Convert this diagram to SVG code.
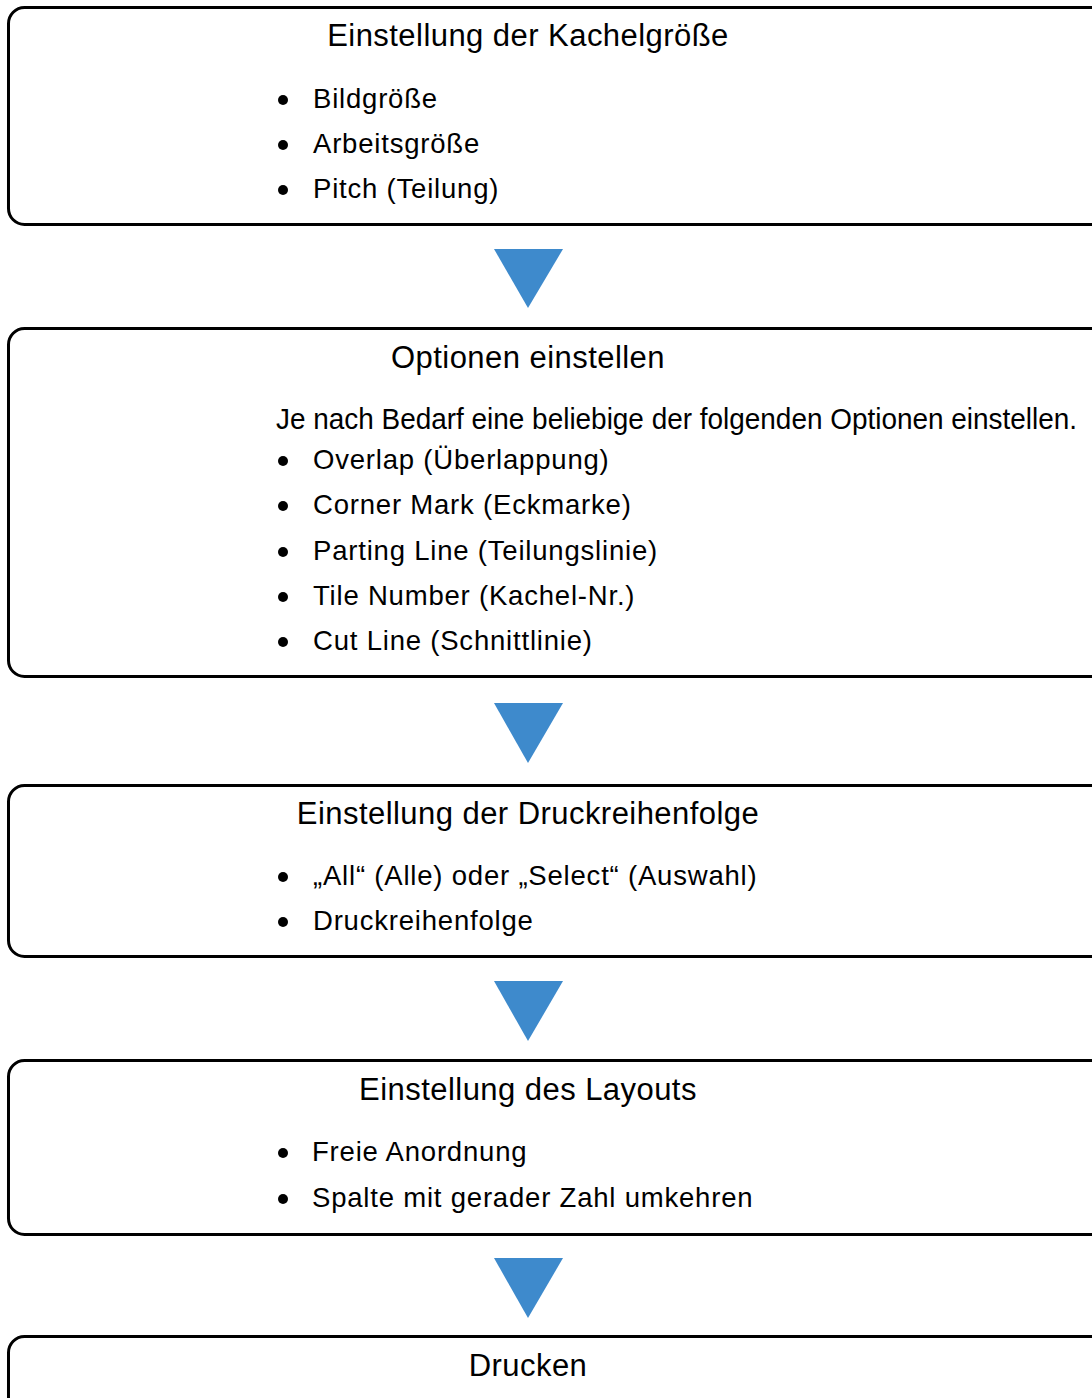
<svg xmlns="http://www.w3.org/2000/svg" width="1092" height="1398" viewBox="0 0 1092 1398">
<style>
.box{fill:#fff;stroke:#000;stroke-width:3}
.t{font-family:"Liberation Sans",Arial,sans-serif;font-size:27.5px;fill:#000;letter-spacing:0.8px}
.h{font-family:"Liberation Sans",Arial,sans-serif;font-size:31px;fill:#000;letter-spacing:0.45px;text-anchor:middle}
.arr{fill:#3E8ACC}
</style>
<rect width="1092" height="1398" fill="#fff"/>
<g id="connectors">
<polygon class="arr" points="494,249 563,249 528,308"/>
<polygon class="arr" points="494,703 563,703 528,763"/>
<polygon class="arr" points="494,981 563,981 528,1041"/>
<polygon class="arr" points="494,1258 563,1258 528,1318"/>
</g>
<g id="node1">
<rect class="box" x="8.5" y="7.5" width="1100" height="217" rx="16"/>
<text class="h" x="528" y="46">Einstellung der Kachelgröße</text>
<circle cx="283" cy="100" r="5"/><text class="t" x="313" y="108">Bildgröße</text>
<circle cx="283" cy="145" r="5"/><text class="t" x="313" y="153">Arbeitsgröße</text>
<circle cx="283" cy="190" r="5"/><text class="t" x="313" y="198">Pitch (Teilung)</text>
</g>
<g id="node2">
<rect class="box" x="8.5" y="328.5" width="1100" height="348" rx="16"/>
<text class="h" x="528" y="368">Optionen einstellen</text>
<text class="t" x="276" y="429" style="letter-spacing:0;font-size:29px" textLength="801" lengthAdjust="spacingAndGlyphs">Je nach Bedarf eine beliebige der folgenden Optionen einstellen.</text>
<circle cx="283" cy="461" r="5"/><text class="t" x="313" y="469">Overlap (Überlappung)</text>
<circle cx="283" cy="506" r="5"/><text class="t" x="313" y="514">Corner Mark (Eckmarke)</text>
<circle cx="283" cy="552" r="5"/><text class="t" x="313" y="560">Parting Line (Teilungslinie)</text>
<circle cx="283" cy="597" r="5"/><text class="t" x="313" y="605">Tile Number (Kachel-Nr.)</text>
<circle cx="283" cy="642" r="5"/><text class="t" x="313" y="650">Cut Line (Schnittlinie)</text>
</g>
<g id="node3">
<rect class="box" x="8.5" y="785.5" width="1100" height="171" rx="16"/>
<text class="h" x="528" y="824">Einstellung der Druckreihenfolge</text>
<circle cx="283" cy="877" r="5"/><text class="t" x="313" y="885">„All“ (Alle) oder „Select“ (Auswahl)</text>
<circle cx="283" cy="922" r="5"/><text class="t" x="313" y="930">Druckreihenfolge</text>
</g>
<g id="node4">
<rect class="box" x="8.5" y="1060.5" width="1100" height="174" rx="16"/>
<text class="h" x="528" y="1100">Einstellung des Layouts</text>
<circle cx="283" cy="1153" r="5"/><text class="t" x="312" y="1161">Freie Anordnung</text>
<circle cx="283" cy="1199" r="5"/><text class="t" x="312" y="1207">Spalte mit gerader Zahl umkehren</text>
</g>
<g id="node5">
<rect class="box" x="8.5" y="1336.5" width="1100" height="120" rx="16"/>
<text class="h" x="528" y="1376">Drucken</text>
</g>
</svg>
